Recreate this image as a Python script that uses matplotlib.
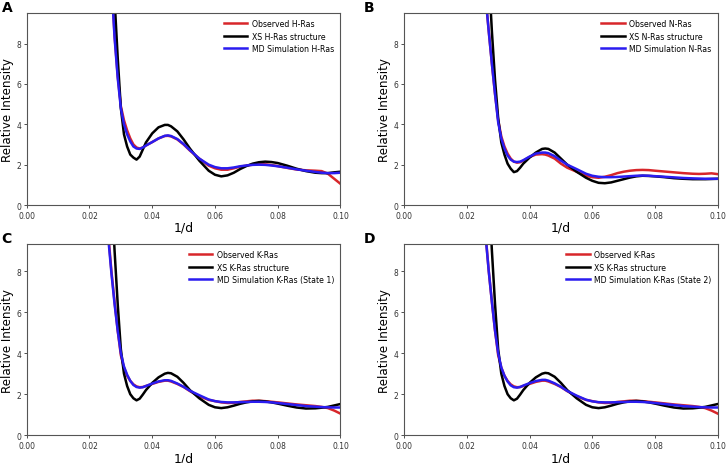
import numpy as np
import matplotlib
matplotlib.use('Agg')
import matplotlib.pyplot as plt

# 1/d sample positions shared by every curve
q = [0.026, 0.027, 0.028, 0.029, 0.030, 0.031, 0.032, 0.033, 0.034, 0.035,
     0.036, 0.037, 0.038, 0.040, 0.042, 0.044, 0.045, 0.046, 0.048, 0.050,
     0.052, 0.055, 0.058, 0.060, 0.062, 0.064, 0.066, 0.068, 0.070, 0.072,
     0.074, 0.076, 0.078, 0.080, 0.083, 0.086, 0.089, 0.092, 0.094, 0.096,
     0.098, 0.100]

# panel A - H-Ras
h_obs = [14.5, 11.2, 8.4, 6.4, 4.9, 4.2, 3.7, 3.3, 3.0, 2.85,
         2.8, 2.85, 2.95, 3.12, 3.3, 3.42, 3.43, 3.4, 3.25, 3.0,
         2.7, 2.3, 1.95, 1.82, 1.75, 1.75, 1.82, 1.9, 1.95, 2.0,
         2.02, 2.02, 1.98, 1.93, 1.84, 1.76, 1.72, 1.7, 1.68, 1.55,
         1.3, 1.05]
h_xs = [16.0, 13.5, 10.2, 7.3, 4.8, 3.5, 2.9, 2.5, 2.35, 2.25,
        2.4, 2.75, 3.1, 3.55, 3.85, 3.97, 3.97, 3.9, 3.65, 3.25,
        2.8, 2.2, 1.7, 1.5, 1.42, 1.47, 1.6, 1.78, 1.93, 2.05,
        2.12, 2.15, 2.13, 2.08, 1.95, 1.8, 1.68, 1.6, 1.58, 1.58,
        1.62, 1.65]
h_md = [14.0, 11.0, 8.3, 6.3, 4.8, 4.0, 3.5, 3.15, 2.9, 2.8,
        2.78, 2.85, 2.95, 3.12, 3.3, 3.43, 3.45, 3.42, 3.27, 3.02,
        2.72, 2.3, 2.0, 1.88, 1.82, 1.82, 1.86, 1.92, 1.96, 1.99,
        2.0, 1.99, 1.96, 1.92, 1.85, 1.77, 1.7, 1.64, 1.6, 1.58,
        1.58, 1.6]

# panel B - N-Ras
n_obs = [10.3, 8.6, 7.0, 5.5, 4.2, 3.4, 2.9, 2.55, 2.3, 2.15,
         2.1, 2.12, 2.2, 2.38, 2.5, 2.52, 2.5, 2.45, 2.3, 2.05,
         1.85, 1.65, 1.45, 1.38, 1.35, 1.4, 1.48, 1.58, 1.65, 1.7,
         1.73, 1.74, 1.73, 1.7, 1.66, 1.62, 1.58, 1.55, 1.54, 1.55,
         1.57, 1.53]
n_xs = [14.0, 11.5, 8.6, 6.2, 4.3, 3.1, 2.5, 2.05, 1.8, 1.63,
        1.68, 1.85, 2.05, 2.35, 2.6, 2.78, 2.8, 2.78, 2.6, 2.3,
        2.0, 1.65, 1.35, 1.2, 1.1, 1.08, 1.12, 1.2, 1.28, 1.36,
        1.42, 1.45, 1.44, 1.42, 1.38, 1.33, 1.3, 1.28, 1.28, 1.28,
        1.29, 1.3]
n_md = [10.3, 8.6, 7.0, 5.5, 4.1, 3.3, 2.8, 2.45, 2.25, 2.15,
        2.13, 2.15, 2.22, 2.4, 2.55, 2.6, 2.6, 2.57, 2.42, 2.2,
        2.0, 1.78, 1.55, 1.45, 1.4, 1.38, 1.38, 1.39, 1.41, 1.43,
        1.45, 1.46, 1.45, 1.43, 1.4, 1.37, 1.34, 1.32, 1.31, 1.3,
        1.3, 1.3]

# panels C and D - K-Ras
k_obs = [9.8, 8.0, 6.5, 5.1, 3.9, 3.3, 2.9, 2.65, 2.48, 2.38,
         2.34, 2.35, 2.4, 2.5, 2.6, 2.66, 2.66, 2.62, 2.5, 2.35,
         2.15, 1.9, 1.72, 1.66, 1.6, 1.57, 1.58, 1.62, 1.65, 1.68,
         1.68, 1.66, 1.63, 1.6, 1.55, 1.5, 1.46, 1.42, 1.38, 1.32,
         1.2, 1.05]
k_xs = [15.0, 12.0, 9.0, 6.4, 4.2, 3.0, 2.4, 2.0, 1.8, 1.7,
        1.78, 1.98, 2.2, 2.55, 2.82, 3.0, 3.04, 3.02, 2.85, 2.55,
        2.2, 1.8, 1.48, 1.36, 1.32, 1.36, 1.44, 1.53, 1.6, 1.65,
        1.67, 1.65, 1.6, 1.54, 1.44, 1.35, 1.3, 1.31, 1.34, 1.38,
        1.45, 1.52]
k_md1 = [9.6, 7.9, 6.4, 5.1, 4.0, 3.35, 2.95, 2.65, 2.45, 2.35,
         2.32, 2.34, 2.4, 2.52, 2.62, 2.68, 2.68, 2.65, 2.52, 2.36,
         2.17, 1.95, 1.74, 1.66, 1.62, 1.6, 1.6, 1.61, 1.62, 1.63,
         1.63, 1.62, 1.6, 1.57, 1.52, 1.47, 1.42, 1.39, 1.37, 1.36,
         1.35, 1.35]
k_md2 = [9.7, 8.0, 6.5, 5.1, 4.0, 3.3, 2.9, 2.62, 2.43, 2.34,
         2.32, 2.35, 2.42, 2.54, 2.64, 2.7, 2.7, 2.66, 2.53, 2.36,
         2.16, 1.93, 1.73, 1.65, 1.61, 1.6, 1.6, 1.61, 1.62, 1.63,
         1.63, 1.62, 1.6, 1.57, 1.52, 1.47, 1.42, 1.39, 1.37, 1.36,
         1.35, 1.35]

panels = [
    ('A', [h_obs, h_xs, h_md],
     ['Observed H-Ras', 'XS H-Ras structure', 'MD Simulation H-Ras'], 9.52),
    ('B', [n_obs, n_xs, n_md],
     ['Observed N-Ras', 'XS N-Ras structure', 'MD Simulation N-Ras'], 9.52),
    ('C', [k_obs, k_xs, k_md1],
     ['Observed K-Ras', 'XS K-Ras structure', 'MD Simulation K-Ras (State 1)'], 9.33),
    ('D', [k_obs, k_xs, k_md2],
     ['Observed K-Ras', 'XS K-Ras structure', 'MD Simulation K-Ras (State 2)'], 9.33),
]

colors = ['#d8262a', 'black', '#2a1cf0']

# axes rectangles in figure fraction
rects = [
    [0.0367, 0.556, 0.431, 0.414],
    [0.555, 0.556, 0.431, 0.414],
    [0.0367, 0.060, 0.431, 0.412],
    [0.555, 0.060, 0.431, 0.412],
]
letter_pos = [(0.002, 0.998), (0.50, 0.998), (0.002, 0.50), (0.50, 0.50)]

fig = plt.figure(figsize=(7.28, 4.64), dpi=100)

for (letter, series, labels, ytop), rect, lp in zip(panels, rects, letter_pos):
    ax = fig.add_axes(rect)
    for y, lab, c in zip(series, labels, colors):
        ax.plot(q, y, color=c, lw=1.8, label=lab)
    ax.set_xlim(0, 0.1)
    ax.set_ylim(0, ytop)
    ax.set_xticks(np.arange(0, 0.101, 0.02))
    ax.set_xticklabels(['0.00', '0.02', '0.04', '0.06', '0.08', '0.10'])
    ax.set_yticks([0, 2, 4, 6, 8])
    ax.tick_params(labelsize=5.5, length=2.5, width=0.6, pad=1.5,
                   colors='#333333')
    for s in ax.spines.values():
        s.set_color('#555555')
        s.set_linewidth(0.8)
    ax.set_xlabel('1/d', fontsize=9, labelpad=1)
    ax.set_ylabel('Relative Intensity', fontsize=8.6, labelpad=2)
    ax.legend(loc='upper right', frameon=False, fontsize=5.6,
              handlelength=3.0, handletextpad=0.6, labelspacing=0.45,
              borderaxespad=0.4)
    fig.text(lp[0], lp[1], letter, fontsize=10, fontweight='bold',
             ha='left', va='top')

fig.savefig('out.png', dpi=100)
